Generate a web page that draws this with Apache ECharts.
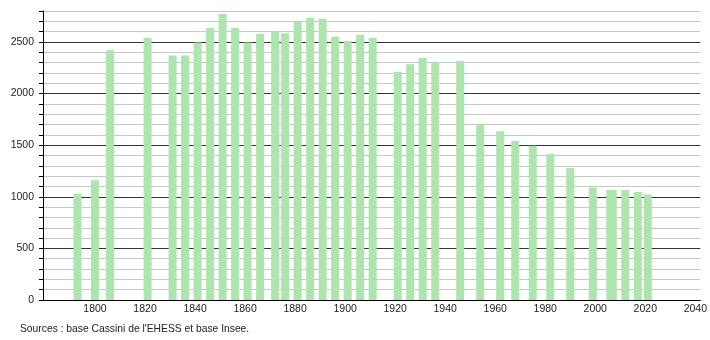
<!DOCTYPE html>
<html>
<head>
<meta charset="utf-8">
<script src="https://cdn.jsdelivr.net/npm/echarts@6/dist/echarts.min.js"></script>
<style>html,body{margin:0;padding:0;background:#fff}#c{width:710px;height:340px}</style>
</head>
<body>
<div id="c"></div>
<script>
var years = [1793,1800,1806,1821,1831,1836,1841,1846,1851,1856,1861,1866,1872,1876,1881,1886,1891,1896,1901,1906,1911,1921,1926,1931,1936,1946,1954,1962,1968,1975,1982,1990,1999,2006,2007,2012,2017,2021];
var population = [1030,1160,2420,2540,2370,2370,2495,2635,2770,2635,2495,2580,2605,2585,2695,2735,2725,2550,2510,2570,2540,2210,2285,2345,2305,2315,1700,1635,1540,1495,1415,1280,1090,1066,1066,1066,1047,1021];
var xTickLabels = [1800,1820,1840,1860,1880,1900,1920,1940,1960,1980,2000,2020,2040];
var yTickLabels = [0,500,1000,1500,2000,2500];
var sourceText = "Sources : base Cassini de l'EHESS et base Insee.";

var chart = echarts.init(document.getElementById('c'), null, {renderer: 'canvas'});
var font = 'Liberation Sans, Arial, sans-serif';
chart.setOption({
  animation: false,
  backgroundColor: '#fff',
  title: {
    text: sourceText,
    left: 15, top: 319,
    textStyle: {fontFamily: font, fontSize: 10.3, fontWeight: 'normal', color: '#222'}
  },
  grid: {left: 43, right: 9, top: 11, bottom: 40, containLabel: false},
  xAxis: {
    type: 'value',
    min: 1779.2,
    max: 2042,
    axisLine: {show: true, onZero: false, lineStyle: {color: '#000', width: 1}},
    axisTick: {show: false},
    splitLine: {show: false},
    axisLabel: {
      customValues: xTickLabels,
      margin: 4,
      fontFamily: font, fontSize: 10.5, color: '#222',
      formatter: function (v) { return String(v); }
    }
  },
  yAxis: {
    type: 'value',
    min: 0, max: 2800, interval: 100,
    axisLine: {show: true, lineStyle: {color: '#000', width: 1}},
    axisTick: {show: true, length: 4, lineStyle: {color: '#000'}},
    splitLine: {show: true, lineStyle: {color: ['#333','#c8c8c8','#c8c8c8','#c8c8c8','#c8c8c8'], width: 1}},
    axisLabel: {
      margin: 9,
      fontFamily: font, fontSize: 10.5, color: '#222',
      formatter: function (v) { return yTickLabels.indexOf(v) >= 0 ? String(v) : ''; }
    }
  },
  series: [{
    type: 'bar',
    barWidth: 8,
    itemStyle: {color: '#aee4ae'},
    data: years.map(function (y, i) { return [y, population[i]]; })
  }]
});
</script>
</body>
</html>
